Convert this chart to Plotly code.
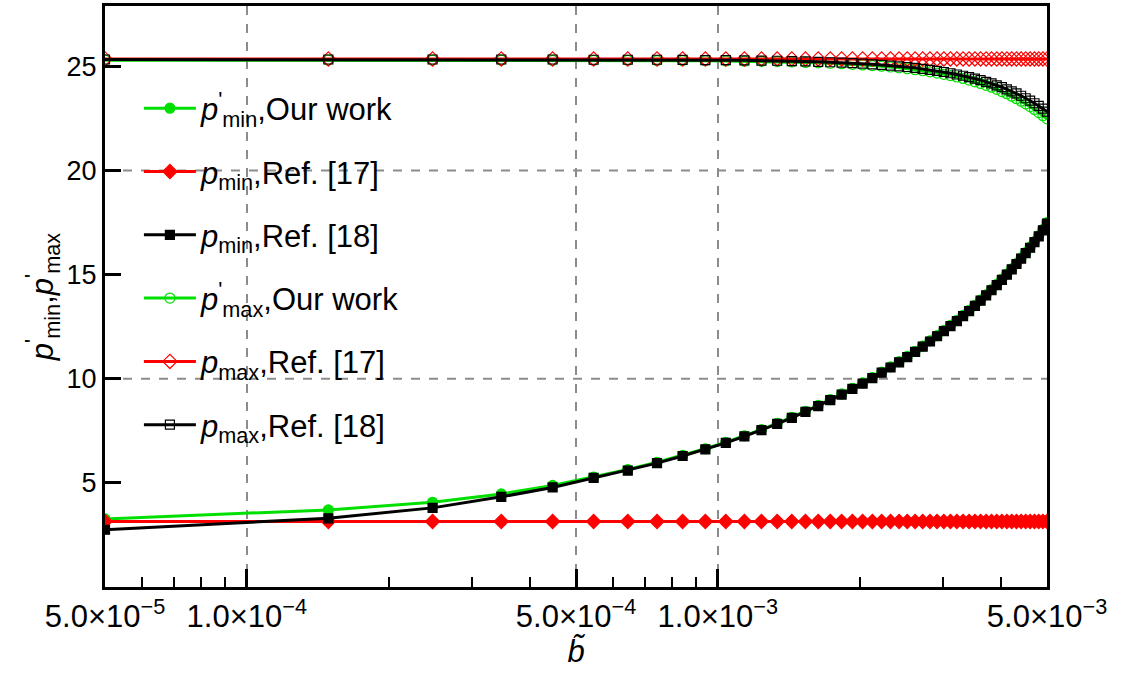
import numpy as np
import plotly.graph_objects as go

# b-tilde values
b_vals = [0.00005, 0.000149, 0.000248, 0.000347, 0.000446, 0.000545, 0.000644, 0.000743, 0.000842, 0.000941,
          0.00104, 0.001139, 0.001238, 0.001337, 0.001436, 0.001535, 0.001634, 0.001733, 0.001832, 0.001931,
          0.00203, 0.002129, 0.002228, 0.002327, 0.002426, 0.002525, 0.002624, 0.002723, 0.002822, 0.002921,
          0.00302, 0.003119, 0.003218, 0.003317, 0.003416, 0.003515, 0.003614, 0.003713, 0.003812, 0.003911,
          0.00401, 0.004109, 0.004208, 0.004307, 0.004406, 0.004505, 0.004604, 0.004703, 0.004802, 0.004901,
          0.005]

pmin_our = [3.27, 3.70, 4.07, 4.47, 4.88, 5.28, 5.64, 5.99, 6.32, 6.64,
            6.95, 7.26, 7.56, 7.86, 8.15, 8.44, 8.72, 9.00, 9.27, 9.54,
            9.80, 10.06, 10.32, 10.57, 10.82, 11.07, 11.32, 11.57, 11.82, 12.07,
            12.32, 12.56, 12.80, 13.04, 13.28, 13.53, 13.78, 14.03, 14.28, 14.53,
            14.78, 15.03, 15.28, 15.54, 15.80, 16.06, 16.32, 16.59, 16.87, 17.17,
            17.50]

pmin_ref17 = [3.15, 3.15, 3.15, 3.15, 3.15, 3.15, 3.15, 3.15, 3.15, 3.15,
              3.15, 3.15, 3.15, 3.15, 3.15, 3.15, 3.15, 3.15, 3.15, 3.15,
              3.15, 3.15, 3.15, 3.15, 3.15, 3.15, 3.15, 3.15, 3.15, 3.15,
              3.15, 3.15, 3.15, 3.15, 3.15, 3.15, 3.15, 3.15, 3.15, 3.15,
              3.15, 3.15, 3.15, 3.15, 3.15, 3.15, 3.15, 3.15, 3.15, 3.15,
              3.15]

pmin_ref18 = [2.75, 3.30, 3.80, 4.33, 4.78, 5.24, 5.59, 5.95, 6.29, 6.61,
              6.92, 7.23, 7.53, 7.83, 8.12, 8.41, 8.69, 8.97, 9.24, 9.51,
              9.77, 10.03, 10.29, 10.54, 10.79, 11.04, 11.29, 11.54, 11.79, 12.04,
              12.29, 12.53, 12.77, 13.01, 13.25, 13.50, 13.75, 14.00, 14.25, 14.50,
              14.75, 15.00, 15.25, 15.51, 15.77, 16.03, 16.29, 16.56, 16.84, 17.13,
              17.45]

pmax_our = [25.30, 25.30, 25.30, 25.30, 25.29, 25.29, 25.29, 25.28, 25.28, 25.27,
            25.26, 25.25, 25.24, 25.23, 25.21, 25.19, 25.17, 25.15, 25.13, 25.10,
            25.07, 25.04, 25.01, 24.97, 24.93, 24.89, 24.84, 24.79, 24.74, 24.68,
            24.62, 24.56, 24.49, 24.42, 24.34, 24.26, 24.18, 24.09, 24.00, 23.90,
            23.79, 23.69, 23.57, 23.45, 23.33, 23.20, 23.07, 22.93, 22.78, 22.63,
            22.48]

pmax_ref17 = [25.36, 25.36, 25.36, 25.36, 25.36, 25.36, 25.36, 25.36, 25.36, 25.36,
              25.36, 25.36, 25.36, 25.36, 25.36, 25.36, 25.36, 25.36, 25.36, 25.36,
              25.36, 25.36, 25.36, 25.36, 25.36, 25.36, 25.36, 25.36, 25.36, 25.36,
              25.36, 25.36, 25.36, 25.36, 25.36, 25.36, 25.36, 25.36, 25.36, 25.36,
              25.36, 25.36, 25.36, 25.36, 25.36, 25.36, 25.36, 25.36, 25.36, 25.36,
              25.36]

pmax_ref18 = [25.33, 25.33, 25.33, 25.33, 25.33, 25.32, 25.32, 25.32, 25.31, 25.30,
              25.30, 25.29, 25.28, 25.27, 25.25, 25.24, 25.22, 25.20, 25.18, 25.16,
              25.13, 25.10, 25.07, 25.04, 25.00, 24.97, 24.93, 24.88, 24.83, 24.78,
              24.73, 24.67, 24.61, 24.55, 24.48, 24.41, 24.34, 24.26, 24.18, 24.09,
              24.00, 23.90, 23.80, 23.70, 23.59, 23.47, 23.36, 23.23, 23.10, 22.97,
              22.83]

x_tickvals = [5e-5, 1e-4, 5e-4, 1e-3, 5e-3]
x_ticktext = ["5.0×10<sup>−5</sup>", "1.0×10<sup>−4</sup>", "5.0×10<sup>−4</sup>",
              "1.0×10<sup>−3</sup>", "5.0×10<sup>−3</sup>"]
x_minor = [6e-5, 7e-5, 8e-5, 9e-5, 2e-4, 3e-4, 4e-4, 6e-4, 7e-4, 8e-4, 9e-4, 2e-3, 3e-3, 4e-3]
y_tickvals = [5, 10, 15, 20, 25]
y_grid = [10, 20]

GREEN = "#00e000"
RED = "#ff0000"
BLACK = "#000000"

series = [
    ("<i>p</i><sup>'</sup><sub>min</sub>,Our work", pmin_our, GREEN, "circle", 10),
    ("<i>p</i><sub>min</sub>,Ref. [17]", pmin_ref17, RED, "diamond", 11),
    ("<i>p</i><sub>min</sub>,Ref. [18]", pmin_ref18, BLACK, "square", 9),
    ("<i>p</i><sup>'</sup><sub>max</sub>,Our work", pmax_our, GREEN, "circle-open", 10),
    ("<i>p</i><sub>max</sub>,Ref. [17]", pmax_ref17, RED, "diamond-open", 11),
    ("<i>p</i><sub>max</sub>,Ref. [18]", pmax_ref18, BLACK, "square-open", 9),
]

fig = go.Figure()
for i, (name, ys, col, sym, sz) in enumerate(series):
    fig.add_trace(go.Scatter(
        x=b_vals, y=ys, name=name, mode="lines+markers",
        legendgroup=f"g{i}",
        line=dict(color=col, width=3),
        marker=dict(color=col, symbol=sym, size=sz, line=dict(color=col, width=1.2)),
    ))

FONT = "Liberation Sans, Arial, sans-serif"

shapes = []
for gv in y_grid:
    shapes.append(dict(type="line", xref="paper", x0=0, x1=1, yref="y", y0=gv, y1=gv,
                       line=dict(color="#8c8c8c", width=2, dash="dash"), layer="below"))

fig.update_layout(
    width=1124, height=684,
    margin=dict(l=105, r=77, t=3, b=97),
    paper_bgcolor="white", plot_bgcolor="white",
    font=dict(family=FONT, color="black", size=26),
    showlegend=True,
    legend=dict(x=0.036, y=0.87, xanchor="left", yanchor="top",
                bgcolor="rgba(0,0,0,0)", font=dict(size=31, family=FONT),
                tracegroupgap=20, itemwidth=52),
    shapes=shapes,
    xaxis=dict(
        type="log",
        range=[np.log10(5e-5), np.log10(5e-3)],
        tickmode="array", tickvals=x_tickvals, ticktext=x_ticktext,
        ticks="inside", ticklen=18, tickwidth=2.5, tickcolor="black",
        showline=True, linecolor="black", linewidth=3, mirror=True,
        showgrid=True, gridcolor="#8c8c8c", gridwidth=2, griddash="dash",
        zeroline=False,
        tickfont=dict(size=31, family=FONT),
        minor=dict(tickvals=x_minor, ticks="inside", ticklen=10, tickwidth=2,
                   tickcolor="black", showgrid=False),
        title=dict(text="<i>b̃</i>", font=dict(size=31, family=FONT), standoff=8),
    ),
    yaxis=dict(
        range=[0, 27.9],
        tickmode="array", tickvals=y_tickvals,
        ticks="inside", ticklen=16, tickwidth=3, tickcolor="black",
        showline=True, linecolor="black", linewidth=3, mirror=True,
        showgrid=False, zeroline=False,
        tickfont=dict(size=27, family=FONT),
        title=dict(text="<i>p</i><sup>'</sup><sub>min</sub>,<i>p</i><sup>'</sup><sub>max</sub>",
                   font=dict(size=31, family=FONT), standoff=4),
    ),
)

fig.write_html("out.html")
